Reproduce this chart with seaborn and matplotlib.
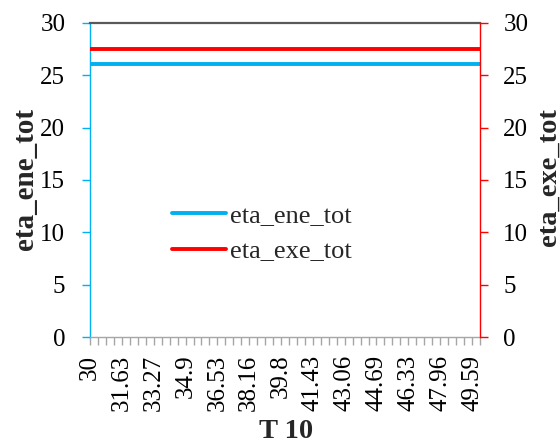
import matplotlib
matplotlib.use("Agg")
import matplotlib.pyplot as plt
import seaborn as sns
import pandas as pd

# ---- data ----
t10_values = [30.00, 30.41, 30.82, 31.22, 31.63, 32.04, 32.45, 32.86, 33.27, 33.67,
              34.08, 34.49, 34.90, 35.31, 35.71, 36.12, 36.53, 36.94, 37.35, 37.76,
              38.16, 38.57, 38.98, 39.39, 39.80, 40.20, 40.61, 41.02, 41.43, 41.84,
              42.24, 42.65, 43.06, 43.47, 43.88, 44.29, 44.69, 45.10, 45.51, 45.92,
              46.33, 46.73, 47.14, 47.55, 47.96, 48.37, 48.78, 49.18, 49.59, 50.00]
eta_ene_tot = [26.1, 26.1, 26.1, 26.1, 26.1, 26.1, 26.1, 26.1, 26.1, 26.1,
               26.1, 26.1, 26.1, 26.1, 26.1, 26.1, 26.1, 26.1, 26.1, 26.1,
               26.1, 26.1, 26.1, 26.1, 26.1, 26.1, 26.1, 26.1, 26.1, 26.1,
               26.1, 26.1, 26.1, 26.1, 26.1, 26.1, 26.1, 26.1, 26.1, 26.1,
               26.1, 26.1, 26.1, 26.1, 26.1, 26.1, 26.1, 26.1, 26.1, 26.1]
eta_exe_tot = [27.55, 27.55, 27.55, 27.55, 27.55, 27.55, 27.55, 27.55, 27.55, 27.55,
               27.55, 27.55, 27.55, 27.55, 27.55, 27.55, 27.55, 27.55, 27.55, 27.55,
               27.55, 27.55, 27.55, 27.55, 27.55, 27.55, 27.55, 27.55, 27.55, 27.55,
               27.55, 27.55, 27.55, 27.55, 27.55, 27.55, 27.55, 27.55, 27.55, 27.55,
               27.55, 27.55, 27.55, 27.55, 27.55, 27.55, 27.55, 27.55, 27.55, 27.55]
x_tick_labels = ["30", "31.63", "33.27", "34.9", "36.53", "38.16", "39.8",
                 "41.43", "43.06", "44.69", "46.33", "47.96", "49.59"]
y_ticks = [0, 5, 10, 15, 20, 25, 30]

df = pd.DataFrame({"T 10": t10_values, "eta_ene_tot": eta_ene_tot, "eta_exe_tot": eta_exe_tot})

sns.set_theme(style="white")
plt.rcParams["font.family"] = ["Liberation Serif", "DejaVu Serif"]

BLUE = "#00B0F0"
RED = "#FF0000"

W, H = 560, 446
fig = plt.figure(figsize=(W / 100, H / 100), dpi=100)
fig.patch.set_facecolor("white")
ax = fig.add_axes([90 / W, 1 - 337 / H, 390 / W, 314 / H])

sns.lineplot(data=df, x="T 10", y="eta_ene_tot", ax=ax, color=BLUE, lw=2.8,
             label="eta_ene_tot", legend=False)
ax2 = ax.twinx()
sns.lineplot(data=df, x="T 10", y="eta_exe_tot", ax=ax2, color=RED, lw=2.8,
             label="eta_exe_tot", legend=False)

for a in (ax, ax2):
    a.set_ylim(0, 30)
    a.set_yticks(y_ticks)
    a.set_ylabel("")
    a.set_xlabel("")
ax.set_xlim(t10_values[0], t10_values[-1])

# x ticks at every category, labels every 4th
ax.set_xticks(t10_values)
labels = []
k = 0
for i in range(len(t10_values)):
    if i % 4 == 0 and k < len(x_tick_labels):
        labels.append(x_tick_labels[k])
        k += 1
    else:
        labels.append("")
ax.set_xticklabels(labels)
TL = 5.8  # tick length in points (~8 px)
ax.tick_params(axis="x", direction="out", length=TL, width=1, color="#A6A6A6",
               labelrotation=90, pad=7, labelsize=18, labelcolor="black", bottom=True)
ax.tick_params(axis="y", direction="out", length=TL, width=1, color=BLUE,
               pad=12, labelsize=18, labelcolor="black", left=True)
ax2.tick_params(axis="y", direction="out", length=TL, width=1, color=RED,
                pad=11, labelsize=18, labelcolor="black", right=True)

for s in ("top", "bottom", "left", "right"):
    ax.spines[s].set_visible(True)
ax.spines["right"].set_visible(False)
ax.spines["left"].set_color(BLUE)
ax.spines["left"].set_linewidth(1.0)
ax.spines["top"].set_color("#595959")
ax.spines["top"].set_linewidth(1.6)
ax.spines["bottom"].set_color("#A6A6A6")
ax.spines["bottom"].set_linewidth(1.0)
for s in ("top", "bottom", "left"):
    ax2.spines[s].set_visible(False)
ax2.spines["right"].set_visible(True)
ax2.spines["right"].set_color(RED)
ax2.spines["right"].set_linewidth(1.0)
ax.grid(False)
ax2.grid(False)

fig.text(25 / W, 1 - 179 / H, "eta_ene_tot", rotation=90, ha="center", va="center",
         fontsize=21, fontweight="bold")
fig.text(549 / W, 1 - 177 / H, "eta_exe_tot", rotation=90, ha="center", va="center",
         fontsize=20.5, fontweight="bold")
fig.text(286 / W, 1 - 432 / H, "T 10", ha="center", va="center",
         fontsize=20.5, fontweight="bold")

h1, l1 = ax.get_legend_handles_labels()
h2, l2 = ax2.get_legend_handles_labels()
fig.legend(h1 + h2, l1 + l2, loc="center left",
           bbox_to_anchor=(172 / W, 1 - 233.5 / H), frameon=False,
           borderpad=0, borderaxespad=0, handlelength=2.05, handletextpad=0.15,
           labelspacing=0.45, fontsize=19)

fig.savefig("out.png", dpi=100, facecolor="white")
